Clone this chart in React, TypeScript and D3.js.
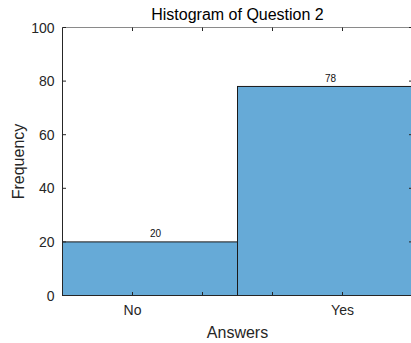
import React from "react";
import * as d3 from "d3";

const categories = ["No", "Yes"];
const counts = [20, 78];
const binEdges = [0, 2.5, 5];
const xTickValues = [1, 2, 3, 4];
const xTickLabels = ["No", "", "", "Yes"];
const yTickValues = [0, 20, 40, 60, 80, 100];
const titleText = "Histogram of Question 2";
const xLabelText = "Answers";
const yLabelText = "Frequency";

const W = 411;
const H = 343;
const left = 62.5;
const right = 412.5;
const top = 27.5;
const bottom = 295.5;
const font = "'Liberation Sans', Arial, Helvetica, sans-serif";
const axisColor = "#262626";

export default function App() {
  const x = d3.scaleLinear().domain([0, 5]).range([left, right]);
  const y = d3.scaleLinear().domain([0, 100]).range([bottom, top]);
  const tickLen = 3.5;

  return (
    <svg
      width={W}
      height={H}
      style={{ position: "absolute", left: 0, top: 0, background: "#fff" }}
      fontFamily={font}
    >
      {/* bars */}
      {categories.map((c, i) => {
        const x0 = x(binEdges[i]);
        const x1 = x(binEdges[i + 1]);
        const yt = y(counts[i]);
        return (
          <g key={c}>
            <rect
              x={x0}
              y={yt}
              width={x1 - x0}
              height={y(0) - yt}
              fill="rgb(102,170,215)"
              stroke="#1a1a1a"
              strokeWidth={1}
            />
            <text
              x={(x0 + x1) / 2}
              y={yt - 4.5}
              fontSize={10}
              fill="#111"
              textAnchor="start"
            >
              {counts[i]}
            </text>
          </g>
        );
      })}

      {/* box */}
      <line x1={left} x2={right} y1={top} y2={top} stroke="#8a8a8a" strokeWidth={1} />
      <line x1={right} x2={right} y1={top} y2={bottom} stroke="#8a8a8a" strokeWidth={1} />
      <line x1={left} x2={left} y1={top} y2={bottom} stroke={axisColor} strokeWidth={1} />
      <line x1={left} x2={right} y1={bottom} y2={bottom} stroke={axisColor} strokeWidth={1} />

      {/* x ticks */}
      {xTickValues.map((v, i) => (
        <g key={"xt" + v}>
          <line x1={x(v)} x2={x(v)} y1={bottom} y2={bottom - tickLen} stroke={axisColor} />
          <line x1={x(v)} x2={x(v)} y1={top} y2={top + tickLen} stroke={axisColor} />
          <text
            x={x(v)}
            y={315}
            fontSize={14}
            fill={axisColor}
            textAnchor="middle"
          >
            {xTickLabels[i]}
          </text>
        </g>
      ))}

      {/* y ticks */}
      {yTickValues.map((v) => (
        <g key={"yt" + v}>
          <line x1={left} x2={left + tickLen} y1={y(v)} y2={y(v)} stroke={axisColor} />
          <line x1={right} x2={right - tickLen} y1={y(v)} y2={y(v)} stroke={axisColor} />
          <text
            x={left - 8}
            y={y(v) + 5}
            fontSize={14}
            fill={axisColor}
            textAnchor="end"
          >
            {v}
          </text>
        </g>
      ))}

      {/* labels */}
      <text
        x={(left + right) / 2}
        y={19.5}
        fontSize={16}
        fill="#000"
        textAnchor="middle"
      >
        {titleText}
      </text>
      <text
        x={(left + right) / 2}
        y={338}
        fontSize={16}
        fill={axisColor}
        textAnchor="middle"
      >
        {xLabelText}
      </text>
      <text
        transform={`translate(24,${(top + bottom) / 2}) rotate(-90)`}
        fontSize={16}
        fill={axisColor}
        textAnchor="middle"
      >
        {yLabelText}
      </text>
    </svg>
  );
}
